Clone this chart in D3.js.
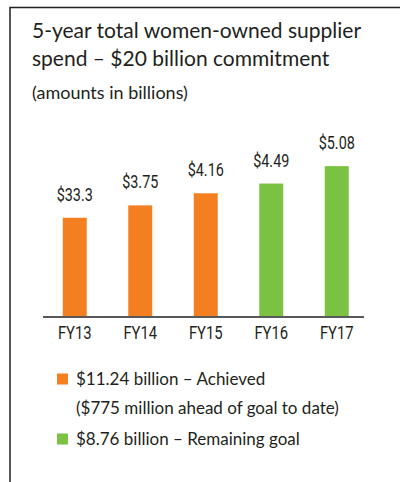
<!DOCTYPE html>
<html>
<head>
<meta charset="utf-8">
<script src="https://cdn.jsdelivr.net/npm/d3@7"></script>
<style>
  body { margin: 0; background: #fff; }
  svg { display: block; }
  .title { font-family: Lato, "Open Sans", sans-serif; fill: #231f20; }
  .cond { font-family: Roboto, "Liberation Sans", sans-serif; fill: #231f20; }
</style>
</head>
<body>
<div id="chart"></div>
<script>
const years = ["FY13", "FY14", "FY15", "FY16", "FY17"];
const spend = [3.33, 3.75, 4.16, 4.49, 5.08];
const valueLabels = ["$33.3", "$3.75", "$4.16", "$4.49", "$5.08"];
const status = ["achieved", "achieved", "achieved", "remaining", "remaining"];
const titleLines = ["5-year total women-owned supplier", "spend – $20 billion commitment"];
const subtitle = "(amounts in billions)";
const legendItems = [
  { key: "achieved", text: "$11.24 billion – Achieved" },
  { key: null, text: "($775 million ahead of goal to date)" },
  { key: "remaining", text: "$8.76 billion – Remaining goal" }
];

const width = 400, height = 482;
const squeeze = 0.8; // fake a condensed face
const color = d3.scaleOrdinal()
    .domain(["achieved", "remaining"])
    .range(["#f47f21", "#7cc242"]);

const svg = d3.select("#chart").append("svg")
    .attr("width", width)
    .attr("height", height);

// frame (top + left edge only)
svg.append("path")
    .attr("d", "M10,482V7.5H400")
    .attr("fill", "none")
    .attr("stroke", "#231f20")
    .attr("stroke-width", 1.5);

svg.selectAll(".title-line")
    .data(titleLines)
    .join("text")
    .attr("class", "title title-line")
    .attr("x", 32)
    .attr("y", (d, i) => 38 + i * 27.5)
    .attr("font-size", 21)
    .text(d => d);

svg.append("text")
    .attr("class", "title")
    .attr("x", 32)
    .attr("y", 99)
    .attr("font-size", 18)
    .text(subtitle);

const x = d3.scaleBand()
    .domain(years)
    .range([42, 369.5])
    .paddingInner(0.634)
    .paddingOuter(0.317);

const y = d3.scaleLinear()
    .domain([0, 6])
    .range([316, 139]);

const g = svg.append("g");

g.selectAll("rect.bar")
    .data(years)
    .join("rect")
    .attr("class", "bar")
    .attr("x", d => x(d))
    .attr("width", x.bandwidth())
    .attr("y", (d, i) => y(spend[i]))
    .attr("height", (d, i) => y(0) - y(spend[i]))
    .attr("fill", (d, i) => color(status[i]));

g.selectAll("text.val")
    .data(years)
    .join("text")
    .attr("class", "val cond")
    .attr("transform", (d, i) =>
        `translate(${x(d) + x.bandwidth() / 2},${y(spend[i]) - 17}) scale(${squeeze},1)`)
    .attr("text-anchor", "middle")
    .attr("font-size", 18)
    .text((d, i) => valueLabels[i]);

const xAxis = g.append("g")
    .attr("transform", `translate(0,${y(0) + 1})`)
    .call(d3.axisBottom(x).tickSize(0));
xAxis.select(".domain")
    .attr("d", "M43,0H364")
    .attr("stroke", "#231f20")
    .attr("stroke-width", 1.5);
xAxis.selectAll(".tick text")
    .attr("class", "cond")
    .attr("font-size", 18.5)
    .attr("y", 0)
    .attr("dy", 0)
    .attr("transform", `translate(0,22) scale(${squeeze},1)`);

const legend = svg.append("g").selectAll("g")
    .data(legendItems)
    .join("g")
    .attr("transform", (d, i) => `translate(57,${384.5 + [0, 29, 60][i]})`);
legend.filter(d => d.key)
    .append("rect")
    .attr("y", -11)
    .attr("width", 11)
    .attr("height", 11)
    .attr("fill", d => color(d.key));
legend.append("text")
    .attr("class", "title")
    .attr("x", 19)
    .attr("font-size", 17)
    .text(d => d.text);
</script>
</body>
</html>
